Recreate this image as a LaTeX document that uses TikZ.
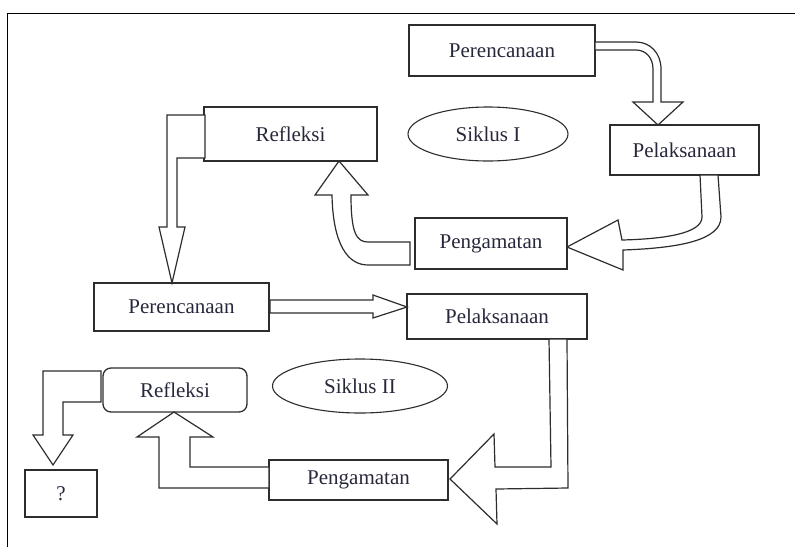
\documentclass[tikz,border=0pt]{standalone}
\usepackage{fontspec}
\setmainfont{Liberation Serif}
\usepackage{tikz}
\usetikzlibrary{shapes.geometric}
\definecolor{ink}{RGB}{45, 45, 45}
\definecolor{word}{RGB}{40, 40, 60}

\begin{document}
\begin{tikzpicture}[
    x=1pt, y=-1pt,
    box/.style={
      rectangle, draw=ink, line width=1.3pt, inner sep=0pt,
      text centered, font=\fontsize{21}{25}\selectfont, text=word
    },
    cyc/.style={
      ellipse, draw=ink, line width=1.1pt, inner sep=0pt,
      font=\fontsize{21}{25}\selectfont, text=word
    },
    blk/.style={draw=ink, line width=1.2pt, fill=white, line join=miter}
  ]

  \useasboundingbox (0,0) rectangle (795,547);

  % ── Frame (left + top only) ────────────────────────────────────
  \draw[line width=1pt] (7,547) -- (7,13) -- (795,13);

  % ── Siklus I ───────────────────────────────────────────────────
  \node[box, minimum width=186, minimum height=51] (per1) at (502,50.5)  {Perencanaan};
  \node[box, minimum width=149, minimum height=50] (pel1) at (684.5,150) {Pelaksanaan};
  \node[box, minimum width=152, minimum height=51] (pen1) at (491,243.5) {Pengamatan};
  \node[box, minimum width=173, minimum height=54] (ref1) at (290.5,134) {Refleksi};
  \node[cyc, minimum width=160, minimum height=54] (sik1) at (488,134)   {Siklus I};

  % ── Siklus II ──────────────────────────────────────────────────
  \node[box, minimum width=175, minimum height=48] (per2) at (181.5,307) {Perencanaan};
  \node[box, minimum width=180, minimum height=45] (pel2) at (497,316.5) {Pelaksanaan};
  \node[box, minimum width=179, minimum height=40] (pen2) at (358.5,480) {Pengamatan};
  \node[box, rounded corners=8pt, minimum width=144, minimum height=44]
    (ref2) at (175,390) {Refleksi};
  \node[cyc, minimum width=175, minimum height=54] (sik2) at (360,386)   {Siklus II};
  \node[box, minimum width=72, minimum height=47]  (next) at (61,493.5)  {?};

  % ── Block arrows, cycle I ──────────────────────────────────────
  % per1 -> pel1
  \draw[blk] (595,42) -- (636,42) .. controls (650,42) and (661,53) .. (661,69)
    -- (661,102) -- (683,102) -- (658,125) -- (633,102) -- (653,102) -- (653,69)
    .. controls (653,58) and (646,50) .. (636,50) -- (595,50) -- cycle;
  % pel1 -> pen1
  \draw[blk] (700,175) -- (702,217) .. controls (702,234) and (662,239) .. (622,240)
    -- (618,220) -- (567,247) -- (623,270) -- (623,250)
    .. controls (680,248) and (721,240) .. (721,217) -- (718,175) -- cycle;
  % pen1 -> ref1
  \draw[blk] (410,242) -- (368,242) .. controls (356,242) and (351,232) .. (351,195)
    -- (368,195) -- (339,161) -- (315,195) -- (332,195)
    .. controls (333,245) and (348,265) .. (368,265) -- (410,265) -- cycle;
  % ref1 -> per2
  \draw[blk] (205,115) -- (167,115) -- (167,227) -- (159,227) -- (172,283)
    -- (185,227) -- (177,227) -- (177,158) -- (205,158) -- cycle;

  % ── Block arrows, cycle II ─────────────────────────────────────
  % per2 -> pel2
  \draw[blk] (270,300) -- (373,300) -- (373,295) -- (407,307) -- (373,318)
    -- (373,313) -- (270,313) -- cycle;
  % pel2 -> pen2
  \draw[blk] (549,339) -- (551,467) -- (495,467) -- (494,434) -- (450,479)
    -- (497,524) -- (496,489) -- (568,488) -- (567,339) -- cycle;
  % pen2 -> ref2
  \draw[blk] (269,467) -- (190,467) -- (190,437) -- (213,437) -- (174,412)
    -- (137,437) -- (159,437) -- (159,488) -- (269,488) -- cycle;
  % ref2 -> next
  \draw[blk] (101,371) -- (43,371) -- (43,435) -- (33,435) -- (53,465)
    -- (73,435) -- (63,435) -- (63,402) -- (101,402) -- cycle;

\end{tikzpicture}
\end{document}
